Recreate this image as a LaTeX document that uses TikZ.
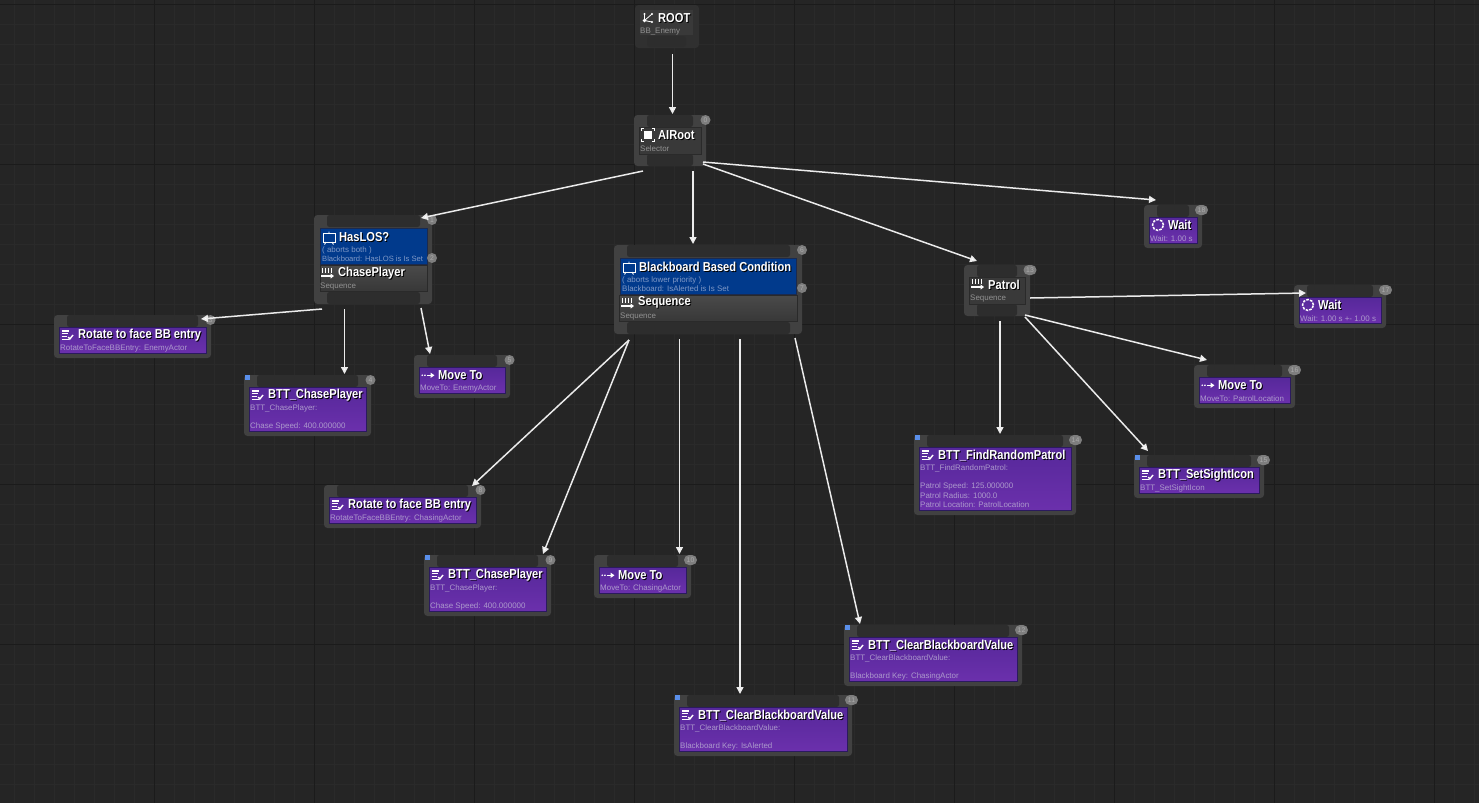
\documentclass[tikz,border=0pt]{standalone}
\usepackage{fontspec}
\setmainfont{Liberation Sans}
\newfontfamily\ttlfont{Liberation Sans}[FakeStretch=0.855]
\usetikzlibrary{arrows.meta,calc}
\definecolor{bgc}{HTML}{252525}
\definecolor{gridminor}{HTML}{2A2A2A}
\definecolor{gridmajor}{HTML}{1B1B1B}
\definecolor{shellc}{HTML}{414141}
\definecolor{notchc}{HTML}{2D2D2D}
\definecolor{subc}{HTML}{AC99CC}
\definecolor{subg}{HTML}{929292}
\definecolor{subb}{HTML}{7F98C6}
\definecolor{purple1}{HTML}{56289A}
\definecolor{purple2}{HTML}{6B30AC}
\definecolor{purpleb}{HTML}{2B1A5E}
\definecolor{blue1}{HTML}{013A8C}
\definecolor{blueb}{HTML}{1B2A4E}
\definecolor{gray1}{HTML}{4A4A4A}
\definecolor{gray2}{HTML}{383838}
\definecolor{grayb}{HTML}{2A2A2A}
\definecolor{rootc}{HTML}{303030}
\definecolor{innerc}{HTML}{393939}
\definecolor{badgec}{HTML}{7E7E7E}
\definecolor{badget}{HTML}{ABABAB}
\definecolor{sqc}{HTML}{5A8FEA}
\newcommand\shad[1]{\rlap{\raisebox{-1pt}{\kern1pt\textcolor{black}{#1}}}#1}
\tikzset{
 x=1pt,y=-1pt,
 box/.style={inner sep=0pt,outer sep=0pt,anchor=north west,rectangle},
 shellbox/.style={box,fill=shellc,rounded corners=3.5pt},
 rootshell/.style={box,fill=rootc,rounded corners=3.5pt},
 notch/.style={box,fill=notchc,rounded corners=2.5pt},
 purplep/.style={box,draw=purpleb,line width=.8pt,top color=purple1,bottom color=purple2},
 bluep/.style={box,draw=blueb,line width=.7pt,fill=blue1},
 grayp/.style={box,draw=grayb,line width=.8pt,top color=gray1,bottom color=gray2},
 innerroot/.style={box,fill=innerc},
 innerdark/.style={box,draw=grayb,line width=.6pt,fill=innerc},
 badge/.style={inner sep=0pt,outer sep=0pt,rectangle,rounded corners=5pt,fill=badgec,minimum height=10pt,text=badget,font=\fontsize{6.8}{7}\selectfont},
 titlet/.style={inner sep=0pt,anchor=west,yshift=-.8pt,text=white,font=\ttlfont\fontsize{13}{15}\selectfont\bfseries},
 subt/.style={inner sep=0pt,anchor=west,yshift=-.8pt,text=subc,font=\fontsize{7.95}{9}\selectfont},
 subgt/.style={subt,text=subg},
 subbt/.style={subt,text=subb},
 bluesq/.style={box,fill=sqc,minimum width=5pt,minimum height=5pt},
 link/.style={draw=black!8!white,line width=1.5pt,-{Triangle[length=7pt,width=7pt,fill=white]}},
 icon/.style={white,line width=1.1pt},
 pics/taski/.style={code={
   \draw[icon] (0,0.5)--(7.5,0.5) (0,3.2)--(6.5,3.2) (0,6)--(5,6) (0,8.8)--(7,8.8);
   \draw[icon,line width=1.4pt] (6.8,6.5)--(8.3,8.5)--(11.5,4.5);
 }},
 pics/seqi/.style={code={
   \draw[icon,line width=1.6pt] (1.5,0)--(1.5,5) (4.5,0)--(4.5,5) (7.5,0)--(7.5,5) (10.5,0)--(10.5,5);
   \draw[icon,-{Triangle[length=3.5pt,width=5pt]}] (0,8)--(13,8);
 }},
 pics/waiti/.style={code={
   \draw[icon,line width=1.5pt,dash pattern=on 2.6pt off 1.2pt] (6.5,4.5) circle (5.5pt);
 }},
 pics/movei/.style={code={
   \fill[white] (.7,4.8) circle (.9pt) (3.4,4.8) circle (.9pt);
   \draw[icon,-{Triangle[length=4pt,width=5pt]}] (5.5,4.8)--(13,4.8);
 }},
 pics/boardi/.style={code={
   \draw[white,line width=.9pt] (0,2)--(12,2)--(12,11)--(0,11)--cycle;
   \draw[white,line width=.9pt] (6,.5)--(6,2) (3,11)--(1.5,13.5) (9,11)--(10.5,13.5);
 }},
 pics/selecti/.style={code={
   \fill[white] (3,3) rectangle (10.5,10.5);
   \draw[white,line width=1pt] (.5,2.5)--(.5,.5)--(2.5,.5) (11,.5)--(13,.5)--(13,2.5) (13,11)--(13,13)--(11,13) (2.5,13)--(.5,13)--(.5,11);
 }},
 pics/rooti/.style={code={
   \draw[white,line width=.8pt] (1.5,7.5)--(1.5,1) (1.5,7.5)--(9,1) (1.5,7.5)--(9,9);
   \fill[white] (1.5,7.5) circle (1.8pt) (1.5,1) circle (1.1pt) (9,1) circle (1.1pt) (9,9) circle (1.1pt);
 }},
}
% name x1 y1 x2 y2 style
\newcommand\rbox[6]{\node[#6,minimum width={(#4-#2)*1pt},minimum height={(#5-#3)*1pt}] (#1) at (#2,#3) {};}
\newcommand\bdgt[5]{\node[badge,minimum width={#4*1pt}] (#1) at (#2,#3) {#5};}
% leaf: name x1 y1 x2 y2 badge-text badge-width icon title
\newcommand\leaf[9]{%
 \rbox{#1}{#2}{#3}{#4}{#5}{shellbox}
 \pgfmathsetmacro\na{#2+13}\pgfmathsetmacro\nb{#4-13}\pgfmathsetmacro\nc{#3+12}
 \rbox{#1n}{\na}{#3}{\nb}{\nc}{notch}
 \pgfmathsetmacro\pa{#2+5}\pgfmathsetmacro\pb{#4-5}\pgfmathsetmacro\pc{#5-5}
 \rbox{#1p}{\pa}{\nc}{\pb}{\pc}{purplep}
 \pgfmathsetmacro\ia{#2+7.5}\pgfmathsetmacro\ib{#3+15.5}
 \pic at (\ia,\ib) {#8};
 \pgfmathsetmacro\ta{#2+24}\pgfmathsetmacro\tb{#3+20}
 \node[titlet] (#1t) at (\ta,\tb) {\shad{#9}};
 \pgfmathsetmacro\ba{#4-.5}\pgfmathsetmacro\bb{#3+5}
 \bdgt{#1b}{\ba}{\bb}{#7}{#6}
}
\newcommand\subl[4]{\node[subt] (#1) at (#2,#3) {#4};}
\newcommand\blu[3]{\node[bluesq] (#1) at (#2,#3) {};}
\begin{document}
\begin{tikzpicture}
\useasboundingbox (0,0) rectangle (1479,803);
\fill[bgc] (0,0) rectangle (1479,803);
\foreach \i in {-1,...,74}{\draw[gridminor,line width=.8pt] ({\i*20+14},0)--({\i*20+14},803);}
\foreach \i in {0,...,40}{\draw[gridminor,line width=.8pt] (0,{\i*20+4.5})--(1479,{\i*20+4.5});}
\foreach \i in {0,...,9}{\draw[gridmajor,line width=1pt] ({\i*160-6},0)--({\i*160-6},803);}
\foreach \i in {0,...,5}{\draw[gridmajor,line width=1pt] (0,{\i*160+4.5})--(1479,{\i*160+4.5});}

% ROOT
\rbox{root}{635}{5}{699}{48}{rootshell}
\rbox{rootin}{640}{10}{693}{35}{innerroot}
\rbox{rootn}{647}{36}{686}{47}{notch}
\pic at (643,13) {rooti};
\node[titlet] (roott) at (658,17.5) {\shad{ROOT}};
\node[subgt] (roots) at (640,30.5) {BB\_Enemy};

% AIRoot
\rbox{airoot}{634}{115}{706}{166}{shellbox}
\rbox{airootn}{647}{115}{693}{127}{notch}
\rbox{airootb}{647}{154}{693}{166}{notch}
\rbox{airootin}{639}{127}{701}{154}{innerdark}
\pic at (641,128) {selecti};
\node[titlet] (airoott) at (658,134.5) {\shad{AIRoot}};
\node[subgt] (airoots) at (640,147.5) {Selector};
\bdgt{airootbd}{705.5}{120}{10}{0}

% HasLOS
\rbox{haslos}{314}{215}{432}{304}{shellbox}
\rbox{haslosn}{327}{215}{420}{227}{notch}
\rbox{haslosb}{327}{292}{420}{304}{notch}
\rbox{haslosd}{320}{228}{427}{264}{bluep}
\rbox{hasloss}{320}{265}{427}{291}{grayp}
\pic at (323,231) {boardi};
\node[titlet] (haslost) at (339,236.5) {\shad{HasLOS?}};
\node[subbt] (haslosa) at (322,249.5) {( aborts both )};
\node[subbt,font=\fontsize{7.6}{9}\selectfont] (haslosc) at (322,258) {Blackboard: HasLOS is Is Set};
\pic at (321,268) {seqi};
\node[titlet] (chasept) at (338,272.5) {\shad{ChasePlayer}};
\node[subgt] (chasepS) at (320,285.5) {Sequence};
\bdgt{haslosb1}{432}{220}{10}{1}
\bdgt{haslosb2}{432}{258}{10}{2}

% BBC
\rbox{bbc}{614}{245}{802}{334}{shellbox}
\rbox{bbcn}{627}{245}{790}{257}{notch}
\rbox{bbcb}{627}{322}{790}{334}{notch}
\rbox{bbcd}{620}{258}{796}{294}{bluep}
\rbox{bbcs}{619}{295}{797}{321}{grayp}
\pic at (623,261) {boardi};
\node[titlet] (bbct) at (639,266.5) {\shad{Blackboard Based Condition}};
\node[subbt] (bbca) at (622,279.5) {( aborts lower priority )};
\node[subbt] (bbcc) at (622,288) {Blackboard: IsAlerted is Is Set};
\pic at (621,298) {seqi};
\node[titlet] (seqt) at (638,302.5) {\shad{Sequence}};
\node[subgt] (seqS) at (620,315.5) {Sequence};
\bdgt{bbcb1}{802}{250}{10}{6}
\bdgt{bbcb2}{802}{288}{10}{7}

% Patrol
\rbox{patrol}{964}{265}{1030}{316}{shellbox}
\rbox{patroln}{977}{265}{1017}{277}{notch}
\rbox{patrolb}{977}{304}{1017}{316}{notch}
\rbox{patrolin}{969}{277}{1025}{304}{innerdark}
\pic at (971,279) {seqi};
\node[titlet] (patrolt) at (988,284.5) {\shad{Patrol}};
\node[subgt] (patrols) at (970,297.5) {Sequence};
\bdgt{patrolbd}{1030}{270}{13}{13}

% leaves
\leaf{rot}{54}{315}{211}{358}{3}{10}{taski}{Rotate to face BB entry}
\subl{rots}{60}{347.5}{RotateToFaceBBEntry: EnemyActor}
\leaf{cha}{244}{375}{371}{436}{4}{10}{taski}{BTT\_ChasePlayer}
\subl{chas}{250}{407.5}{BTT\_ChasePlayer:}
\subl{chasb}{250}{425.5}{Chase Speed: 400.000000}
\blu{chaq}{245}{375}
\leaf{mov}{414}{355}{510}{398}{5}{10}{movei}{Move To}
\subl{movs}{420}{387.5}{MoveTo: EnemyActor}
\leaf{rotb}{324}{485}{481}{528}{8}{10}{taski}{Rotate to face BB entry}
\subl{rotbs}{330}{517.5}{RotateToFaceBBEntry: ChasingActor}
\leaf{chb}{424}{555}{551}{616}{9}{10}{taski}{BTT\_ChasePlayer}
\subl{chbs}{430}{587.5}{BTT\_ChasePlayer:}
\subl{chbc}{430}{605.5}{Chase Speed: 400.000000}
\blu{chbq}{425}{555}
\leaf{mvb}{594}{555}{691}{598}{10}{13}{movei}{Move To}
\subl{mvbs}{600}{587.5}{MoveTo: ChasingActor}
\leaf{clk}{674}{695}{852}{756}{11}{13}{taski}{BTT\_ClearBlackboardValue}
\subl{clks}{680}{727.5}{BTT\_ClearBlackboardValue:}
\subl{clkb}{680}{745.5}{Blackboard Key: IsAlerted}
\blu{clkq}{675}{695}
\leaf{cll}{844}{625}{1022}{686}{12}{13}{taski}{BTT\_ClearBlackboardValue}
\subl{clls}{850}{657.5}{BTT\_ClearBlackboardValue:}
\subl{cllb}{850}{675.5}{Blackboard Key: ChasingActor}
\blu{cllq}{845}{625}
\leaf{fnd}{914}{435}{1076}{515}{14}{13}{taski}{BTT\_FindRandomPatrol}
\subl{fnds}{920}{467.5}{BTT\_FindRandomPatrol:}
\subl{fndb}{920}{485.5}{Patrol Speed: 125.000000}
\subl{fndc}{920}{494.5}{Patrol Radius: 1000.0}
\subl{fndd}{920}{503.5}{Patrol Location: PatrolLocation}
\blu{fndq}{915}{435}
\leaf{sig}{1134}{455}{1264}{498}{15}{13}{taski}{BTT\_SetSightIcon}
\subl{sigs}{1140}{487.5}{BTT\_SetSightIcon}
\blu{sigq}{1135}{455}
\leaf{mvp}{1194}{365}{1295}{408}{16}{13}{movei}{Move To}
\subl{mvps}{1200}{397.5}{MoveTo: PatrolLocation}
\leaf{wtb}{1294}{285}{1386}{328}{17}{13}{waiti}{Wait}
\subl{wtbs}{1300}{317.5}{Wait: 1.00 s +- 1.00 s}
\leaf{wta}{1144}{205}{1202}{248}{18}{13}{waiti}{Wait}
\subl{wtas}{1150}{237.5}{Wait: 1.00 s}

% connectors
\draw[link] ([shift={(5.5,6)}]root.south) -- ([shift={(2.5,-1)}]airoot.north);
\draw[link] ([shift={(-27,5)}]airoot.south) -- ([shift={(48,3)}]haslos.north);
\draw[link] ([shift={(23,5)}]airoot.south) -- ([shift={(-15,-1)}]bbc.north);
\draw[link] ([shift={(33,-2)}]airoot.south) -- ([shift={(-20,-4)}]patrol.north);
\draw[link] ([shift={(33,-4)}]airoot.south) -- ([shift={(-17,-5)}]wta.north);
\draw[link] ([shift={(-51,5)}]haslos.south) -- ([shift={(68.5,4)}]rot.north);
\draw[link] ([shift={(-28.5,5)}]haslos.south) -- ([shift={(37,-1)}]cha.north);
\draw[link] ([shift={(48,4)}]haslos.south) -- ([shift={(-32,-1)}]mov.north);
\draw[link] ([shift={(-79,6)}]bbc.south) -- ([shift={(69.5,1)}]rotb.north);
\draw[link] ([shift={(-79,6)}]bbc.south) -- ([shift={(55.5,-1)}]chb.north);
\draw[link] ([shift={(-28.5,5)}]bbc.south) -- ([shift={(37,-1)}]mvb.north);
\draw[link] ([shift={(32,5)}]bbc.south) -- ([shift={(-23,-1)}]clk.north);
\draw[link] ([shift={(87,4)}]bbc.south) -- ([shift={(-73,-1)}]cll.north);
\draw[link] ([shift={(0,7.5)}]patrol.east) -- ([shift={(-34,8)}]wtb.north);
\draw[link] ([shift={(28,-1)}]patrol.south) -- ([shift={(-37.5,-5)}]mvp.north);
\draw[link] ([shift={(28,1)}]patrol.south) -- ([shift={(-51,-4)}]sig.north);
\draw[link] ([shift={(3,5)}]patrol.south) -- ([shift={(5,-1)}]fnd.north);
\end{tikzpicture}
\end{document}
